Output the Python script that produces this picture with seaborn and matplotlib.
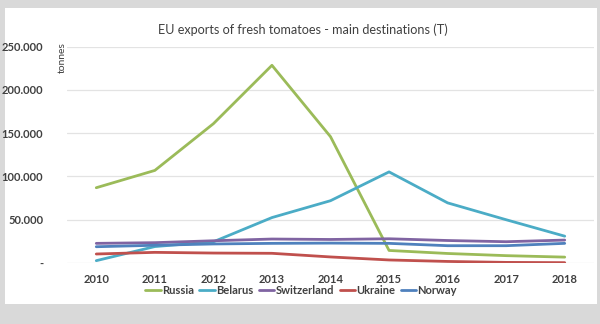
import matplotlib
matplotlib.use("Agg")
import matplotlib.pyplot as plt
import seaborn as sns
import pandas as pd
from matplotlib.patches import Rectangle
from matplotlib.ticker import FixedLocator, FuncFormatter

years = [2010, 2011, 2012, 2013, 2014, 2015, 2016, 2017, 2018]
russia = [87000, 107000, 161000, 228500, 146000, 14500, 11000, 8500, 6800]
belarus = [2700, 19000, 24500, 52500, 72000, 105300, 69500, 50000, 31000]
switzerland = [22700, 23500, 25700, 27700, 27200, 28000, 26000, 24600, 26500]
ukraine = [10400, 12300, 11500, 11200, 7000, 3500, 1800, 700, 400]
norway = [18800, 20500, 22000, 22700, 23000, 22700, 20000, 20000, 22700]

series = {
    "Russia": russia,
    "Belarus": belarus,
    "Switzerland": switzerland,
    "Ukraine": ukraine,
    "Norway": norway,
}
colors = {
    "Russia": "#9BBB59",
    "Belarus": "#4BACC6",
    "Switzerland": "#8064A2",
    "Ukraine": "#C0504D",
    "Norway": "#4F81BD",
}

rows = []
for name, vals in series.items():
    for i, v in enumerate(vals):
        rows.append({"year": str(years[i]), "idx": i, "country": name, "tonnes": v})
df = pd.DataFrame(rows)

sns.set_theme(style="white")
plt.rcParams["font.family"] = ["Lato", "DejaVu Sans"]

fig = plt.figure(figsize=(6.0, 3.24), dpi=100)
fig.patch.set_facecolor("#d9d9d9")
# white chart panel on the grey page
fig.patches.append(Rectangle((5 / 600, 1 - 304 / 324), 592 / 600, 296 / 324,
                             transform=fig.transFigure, facecolor="white",
                             edgecolor="none", zorder=-1))

ax = fig.add_axes([67 / 600, 1 - 263 / 324, 527 / 600, (263 - 46.7) / 324])
ax.set_facecolor("none")
ax.set_zorder(2)

sns.lineplot(data=df, x="idx", y="tonnes", hue="country", palette=colors,
             hue_order=list(series.keys()), linewidth=2.0, ax=ax,
             legend=False, sort=False)

ax.set_xlim(-0.5, 8.5)
ax.set_ylim(0, 250000)
ax.yaxis.set_major_locator(FixedLocator([0, 50000, 100000, 150000, 200000, 250000]))
ax.yaxis.set_major_formatter(FuncFormatter(
    lambda v, p: "-" if v == 0 else f"{int(v):,}".replace(",", ".")))
ax.set_xticks(range(len(years)))
ax.set_xticklabels([str(y) for y in years])
ax.grid(axis="y", color="#e3e3e3", linewidth=0.9)
ax.set_axisbelow(True)
for s in ax.spines.values():
    s.set_visible(False)
ax.tick_params(axis="both", length=0, labelsize=8, labelcolor="#404040")
ax.tick_params(axis="y", pad=17)
ax.tick_params(axis="x", pad=8)
for lbl in ax.get_xticklabels() + ax.get_yticklabels():
    lbl.set_fontweight("bold")
ax.set_xlabel("")
ax.set_ylabel("")

fig.text(62 / 600, 1 - 58 / 324, "tonnes", rotation=90, ha="center", va="center",
         fontsize=7.5, color="#404040", zorder=3)
fig.text(303 / 600, 1 - 30 / 324, "EU exports of fresh tomatoes - main destinations (T)",
         ha="center", va="center", fontsize=9.1, color="#404040", zorder=3)

handles = [plt.Line2D([0], [0], color=colors[n], lw=2.0) for n in series]
leg = fig.legend(handles, list(series.keys()), loc="center",
                 bbox_to_anchor=(301 / 600, 1 - 290 / 324), ncol=5, frameon=False,
                 fontsize=8, handlelength=1.4, handletextpad=0.1, columnspacing=0.5,
                 borderaxespad=0)
leg.set_zorder(3)
for t in leg.get_texts():
    t.set_color("#404040")
    t.set_fontweight("bold")

fig.savefig("out.png", dpi=100, facecolor=fig.get_facecolor())
